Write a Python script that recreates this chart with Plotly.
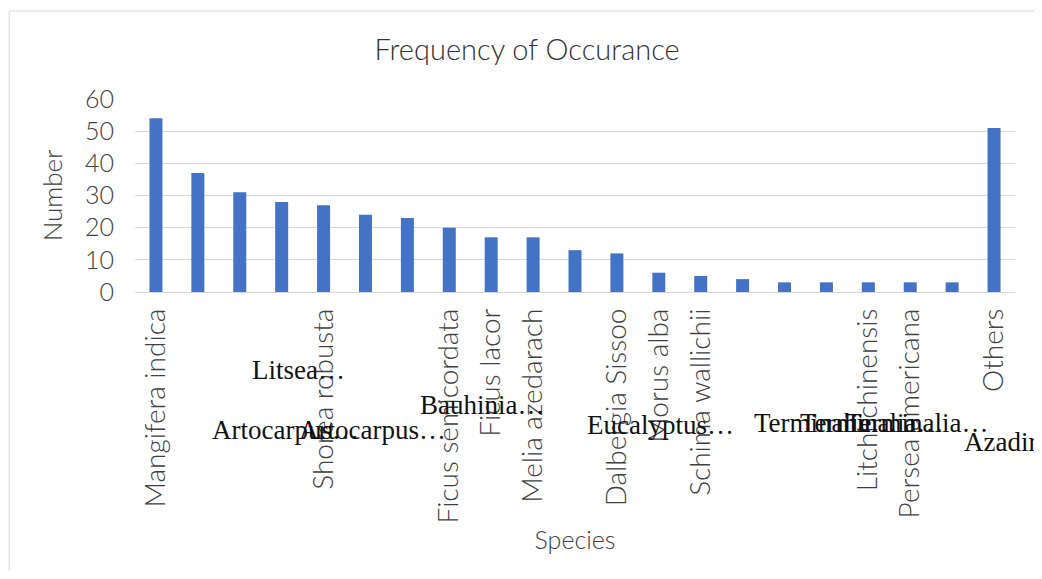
import plotly.graph_objects as go

# bar values, in plotted order
values = [54, 37, 31, 28, 27, 24, 23, 20, 17, 17, 13, 12, 6, 5, 4, 3, 3, 3, 3, 3, 51]

# species names drawn as rotated tick labels ("" where the label overflowed)
tick_labels = [
    "Mangifera indica", "", "", "", "Shorea robusta", "", "",
    "Ficus semicordata", "Ficus lacor", "Melia azedarach", "",
    "Dalbergia Sissoo", "Morus alba", "Schima wallichii", "", "", "",
    "Litchi chinensis", "Persea americana", "", "Others",
]

# long names that the original rendered flat, overlapping below the axis
overflow_labels = [
    "Litsea…", "Artocarpus…", "Artocarpus…", "Bauhinia…", "Eucalyptus…",
    "Terminalia…", "Terminalia…", "Terminalia…", "Azadirachta indica",
]
# left edge / vertical centre of each overflow label, in paper units
overflow_pos = [
    (0.131, -0.404), (0.085, -0.715), (0.184, -0.715), (0.322, -0.585),
    (0.511, -0.689), (0.701, -0.679), (0.753, -0.679), (0.805, -0.679),
    (0.940, -0.777),
]

SANS = "Lato"
TEXT = "#404040"
GRID = "#d9d9d9"

positions = list(range(len(values)))

fig = go.Figure(
    go.Bar(
        x=positions,
        y=values,
        marker={"color": "#4472C4", "line": {"width": 0}},
    )
)

for text, (px, py) in zip(overflow_labels, overflow_pos):
    fig.add_annotation(
        text=text,
        xref="paper",
        yref="paper",
        x=px,
        y=py,
        xanchor="left",
        yanchor="middle",
        showarrow=False,
        font={"family": "Liberation Serif", "size": 27, "color": "#111111"},
    )

# light outer chart border
fig.add_shape(
    type="rect",
    xref="paper",
    yref="paper",
    x0=-0.143,
    x1=1.028,
    y0=-1.7,
    y1=1.456,
    line={"color": GRID, "width": 1},
    layer="below",
)

# the page body adds an 8px margin, so offset the figure to sit where the original did
fig.update_layout(
    width=1034,
    height=563,
    margin={"l": 127, "r": 27, "t": 91, "b": 279},
    paper_bgcolor="white",
    plot_bgcolor="white",
    bargap=0.69,
    showlegend=False,
    font={"family": SANS, "size": 25, "color": TEXT, "weight": 300},
    title={
        "text": "Frequency of Occurance",
        "x": 0.502,
        "xanchor": "center",
        "y": 0.925,
        "yanchor": "middle",
        "font": {"family": SANS, "size": 29, "color": "#333333", "weight": 300},
    },
    xaxis={
        "tickmode": "array",
        "tickvals": positions,
        "ticktext": tick_labels,
        "tickangle": -90,
        "tickfont": {"size": 28},
        "ticklabelstandoff": 10,
        "showgrid": False,
        "showline": False,
        "zeroline": False,
        "ticks": "",
        "range": [-0.5, len(values) - 0.5],
        "automargin": False,
        "title": {"text": "Species", "standoff": 8, "font": {"size": 25}},
    },
    yaxis={
        "range": [0, 60],
        "dtick": 10,
        "showgrid": True,
        "gridcolor": GRID,
        "gridwidth": 1,
        "zeroline": True,
        "zerolinecolor": GRID,
        "zerolinewidth": 1,
        "ticks": "",
        "ticklabelstandoff": 20,
        "automargin": False,
        "title": {"text": "Number", "standoff": 14, "font": {"size": 26}},
    },
)

fig.write_html("out.html")
